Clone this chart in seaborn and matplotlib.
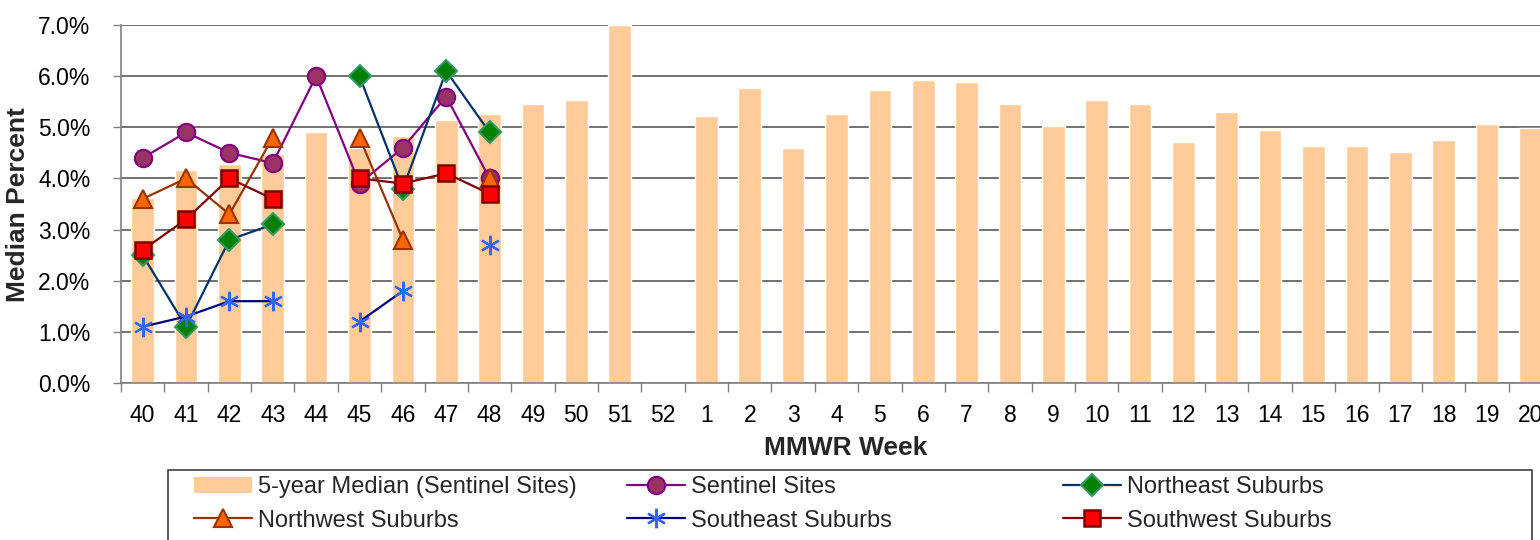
import numpy as np
import pandas as pd
import matplotlib
matplotlib.use("Agg")
import matplotlib.pyplot as plt
import seaborn as sns
from matplotlib.lines import Line2D
from matplotlib.patches import Patch, Rectangle

weeks = ["40", "41", "42", "43", "44", "45", "46", "47", "48", "49", "50", "51", "52",
         "1", "2", "3", "4", "5", "6", "7", "8", "9", "10", "11", "12", "13", "14",
         "15", "16", "17", "18", "19", "20"]
median_5yr = [3.62, 4.17, 4.29, 4.48, 4.91, 4.60, 4.83, 5.15, 5.26, 5.46, 5.54, 7.0, np.nan,
              5.23, 5.77, 4.60, 5.26, 5.73, 5.93, 5.89, 5.46, 5.03, 5.54, 5.46, 4.72, 5.30,
              4.95, 4.64, 4.64, 4.52, 4.76, 5.07, 4.99]

# weeks 40-48 of the current season
sentinel = [4.4, 4.9, 4.5, 4.3, 6.0, 3.9, 4.6, 5.6, 4.0]
northeast = [2.5, 1.1, 2.8, 3.1, np.nan, 6.0, 3.8, 6.1, 4.9]
northwest = [3.6, 4.0, 3.3, 4.8, np.nan, 4.8, 2.8, np.nan, 4.0]
southeast = [1.1, 1.3, 1.6, 1.6, np.nan, 1.2, 1.8, np.nan, 2.7]
southwest = [2.6, 3.2, 4.0, 3.6, np.nan, 4.0, 3.9, 4.1, 3.7]

sns.set_theme(style="white")
plt.rcParams['font.family'] = ['Liberation Sans', 'DejaVu Sans']

W, H = 1540, 540
fig = plt.figure(figsize=(W / 100, H / 100), dpi=100)
ax = fig.add_axes([121 / W, 1 - 383 / H, (1552 - 121) / W, (383 - 25) / H])

df = pd.DataFrame({"week": weeks, "median": median_5yr})
sns.barplot(data=df, x="week", y="median", order=weeks, color="#FFCC99",
            saturation=1, width=0.52, errorbar=None, ax=ax, zorder=2)

series = [
    ("Sentinel Sites", sentinel, dict(color="#800080", marker="o", mfc="#993366", mec="#800080", ms=12.5)),
    ("Northeast Suburbs", northeast, dict(color="#003366", marker="D", mfc="#008000", mec="#339966", ms=11)),
    ("Northwest Suburbs", northwest, dict(color="#993300", marker="^", mfc="#FF6600", mec="#993300", ms=13)),
    ("Southeast Suburbs", southeast, dict(color="#000080", marker=(6, 2, 0), mfc="#3366FF", mec="#3366FF", ms=14, mew=1.6)),
    ("Southwest Suburbs", southwest, dict(color="#800000", marker="s", mfc="#FF0000", mec="#800000", ms=12, mew=1.8)),
]
x_line = np.arange(len(sentinel))
handles = {}
for name, vals, st in series:
    st = dict(st)
    st.setdefault("mew", 1.5)
    ax.plot(x_line, vals, lw=1.6, zorder=3, clip_on=False, **st)
    handles[name] = Line2D([], [], lw=1.6, **st)

ax.set_xlim(-0.5, len(weeks) - 0.5)
ax.set_ylim(0, 7)
ax.set_yticks(np.arange(0, 8, 1))
ax.set_yticklabels([f"{v:.1f}%" for v in range(8)])
ax.yaxis.grid(True, color="#666666", lw=1.3, zorder=0)
ax.xaxis.grid(False)
ax.set_axisbelow(True)
ax.set_xlabel("")
ax.set_ylabel("")

for s in ["top", "right"]:
    ax.spines[s].set_visible(False)
for s in ["left", "bottom"]:
    ax.spines[s].set_color("#808080")
    ax.spines[s].set_linewidth(1.2)

ax.set_xticks(np.arange(-0.5, len(weeks), 1), minor=True)
ax.tick_params(axis="x", which="major", length=0, pad=15, labelsize=16.5, labelcolor="black")
ax.tick_params(axis="x", which="minor", bottom=True, length=6.5, width=1, color="#808080", direction="out")
ax.tick_params(axis="y", which="major", left=True, length=6, width=1, color="#808080",
               direction="out", pad=16, labelsize=16.5, labelcolor="black")

fig.text(18 / W, 1 - 205 / H, "Median Percent", rotation=90, ha="center", va="center",
         fontsize=19, fontweight="bold")
fig.text(846 / W, 1 - 448 / H, "MMWR Week", ha="center", va="center",
         fontsize=19, fontweight="bold")

# legend frame
fig.patches.append(Rectangle((168 / W, -0.05), (1532 - 168) / W, 0.05 + 1 - 470 / H,
                             transform=fig.transFigure, fill=False, edgecolor="#404040", lw=1.2))

patch = Patch(facecolor="#FFCC99", edgecolor="none")
cols = [
    (194, [(patch, "5-year Median (Sentinel Sites)"), (handles["Northwest Suburbs"], "Northwest Suburbs")]),
    (627, [(handles["Sentinel Sites"], "Sentinel Sites"), (handles["Southeast Suburbs"], "Southeast Suburbs")]),
    (1063, [(handles["Northeast Suburbs"], "Northeast Suburbs"), (handles["Southwest Suburbs"], "Southwest Suburbs")]),
]
for xpos, items in cols:
    fig.legend([h for h, _ in items], [l for _, l in items], loc="center left",
               bbox_to_anchor=(xpos / W, 1 - 504 / H), frameon=False, fontsize=17,
               handlelength=2.45, handleheight=0.72, handletextpad=0.25,
               labelspacing=0.49, borderpad=0, borderaxespad=0)

fig.savefig("out.png", dpi=100)
